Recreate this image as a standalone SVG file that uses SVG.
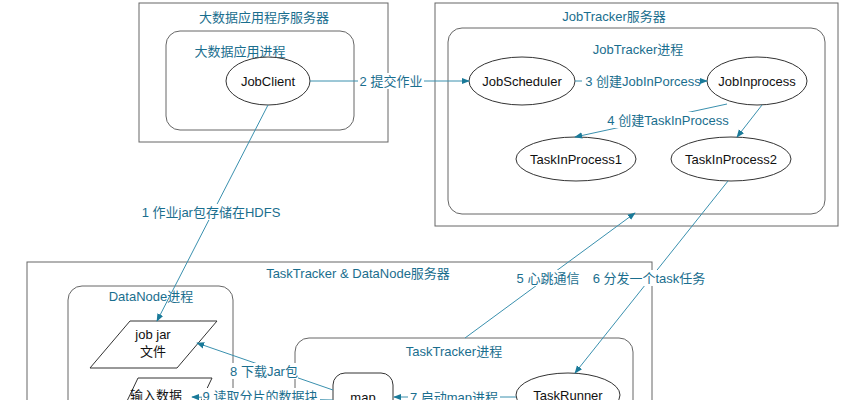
<svg xmlns="http://www.w3.org/2000/svg" width="857" height="400" viewBox="0 0 857 400">
<defs>
<marker id="a" viewBox="0 0 10 10" refX="9" refY="5" markerWidth="8" markerHeight="8" orient="auto"><path d="M0,1 L10,5 L0,9 z" fill="#1a7a99"/></marker>
<style>
.box{fill:#fff;stroke:#666;stroke-width:1}
.nd{fill:#fff;stroke:#333;stroke-width:1}
.t{font-family:"Liberation Sans","Noto Sans CJK SC",sans-serif;font-size:13px;fill:#1a6e8e;text-anchor:middle}
.n{font-family:"Liberation Sans","Noto Sans CJK SC",sans-serif;font-size:13px;fill:#111;text-anchor:middle}
.c{stroke:#3a90ae;stroke-width:1;fill:none;marker-end:url(#a)}
.lb{font-family:"Liberation Sans","Noto Sans CJK SC",sans-serif;font-size:13px;fill:#1a6e8e;text-anchor:middle}
.bg{fill:#fff}
</style>
</defs>
<rect width="857" height="400" fill="#fff"/>
<g id="appServer"><rect class="box" x="139" y="3" width="249" height="139"/><text class="t" x="264" y="22">大数据应用程序服务器</text>
<rect class="box" x="166" y="31" width="188" height="99" rx="14"/><text class="t" x="240" y="56">大数据应用进程</text></g>
<g id="jtServer"><rect class="box" x="435" y="3" width="403" height="223"/><text class="t" x="614" y="21">JobTracker服务器</text>
<rect class="box" x="448" y="28" width="377" height="186" rx="14"/><text class="t" x="638" y="54">JobTracker进程</text></g>
<g id="ttServer"><rect class="box" x="27" y="262" width="625" height="150"/><text class="t" x="358" y="278">TaskTracker &amp; DataNode服务器</text></g>
<g id="dnProc"><rect class="box" x="68" y="286" width="165" height="130" rx="14"/><text class="t" x="151" y="301">DataNode进程</text></g>
<g id="ttProc"><rect class="box" x="295" y="338" width="338" height="80" rx="14"/><text class="t" x="454" y="356">TaskTracker进程</text></g>
<g id="jobClient"><ellipse class="nd" cx="268" cy="81" rx="42" ry="24"/><text class="n" x="268" y="86">JobClient</text></g>
<g id="jobScheduler"><ellipse class="nd" cx="522" cy="81" rx="53" ry="24"/><text class="n" x="522" y="86">JobScheduler</text></g>
<g id="jobInprocess"><ellipse class="nd" cx="757" cy="81" rx="50" ry="24"/><text class="n" x="757" y="86">JobInprocess</text></g>
<g id="tip1"><ellipse class="nd" cx="576" cy="159" rx="60" ry="22"/><text class="n" x="576" y="164">TaskInProcess1</text></g>
<g id="tip2"><ellipse class="nd" cx="731" cy="159" rx="60" ry="22"/><text class="n" x="731" y="164">TaskInProcess2</text></g>
<g id="jobJar"><polygon class="nd" points="130,321 217,321 177,368 90,368"/><text class="n" x="153" y="339">job jar</text><text class="n" x="153" y="356">文件</text></g>
<g id="input"><polygon class="nd" points="138,378 212,378 192,420 118,420"/><text class="n" x="156" y="400">输入数据</text></g>
<g id="map"><rect class="nd" x="333" y="373" width="60" height="50" rx="12"/><text class="n" x="363" y="402">map</text></g>
<g id="taskRunner"><ellipse class="nd" cx="568" cy="395" rx="52" ry="22"/><text class="n" x="568" y="400">TaskRunner</text></g>
<g id="connectors">
<line class="c" x1="268" y1="105" x2="157" y2="321"/>
<line class="c" x1="310" y1="81" x2="469" y2="81"/>
<line class="c" x1="575" y1="81" x2="707" y2="81"/>
<line class="c" x1="727" y1="104" x2="575" y2="137"/>
<line class="c" x1="762" y1="105" x2="737" y2="137"/>
<line class="c" x1="465" y1="338" x2="635" y2="213"/>
<line class="c" x1="728" y1="181" x2="575" y2="373"/>
<line class="c" x1="333" y1="390" x2="197" y2="343"/>
<line class="c" x1="333" y1="400" x2="192" y2="397"/>
<line class="c" x1="516" y1="397" x2="394" y2="397"/>
<rect class="bg" x="358" y="73" width="66" height="16"/><text class="lb" x="391" y="86">2 提交作业</text>
<rect class="bg" x="582" y="73" width="118" height="16"/><text class="lb" x="643" y="86">3 创建JobInPorcess</text>
<rect class="bg" x="604" y="112" width="126" height="16"/><text class="lb" x="668" y="125">4 创建TaskInProcess</text>
<rect class="bg" x="142" y="204" width="140" height="16"/><text class="lb" x="211" y="217">1 作业jar包存储在HDFS</text>
<rect class="bg" x="515" y="270" width="66" height="16"/><text class="lb" x="548" y="283">5 心跳通信</text>
<rect class="bg" x="590" y="270" width="118" height="16"/><text class="lb" x="649" y="283">6 分发一个task任务</text>
<rect class="bg" x="230" y="363" width="68" height="16"/><text class="lb" x="264" y="376">8 下载Jar包</text>
<rect class="bg" x="202" y="388" width="118" height="16"/><text class="lb" x="260" y="401">9 读取分片的数据块</text>
<rect class="bg" x="408" y="389" width="92" height="16"/><text class="lb" x="454" y="402">7 启动map进程</text>
</g>
</svg>
